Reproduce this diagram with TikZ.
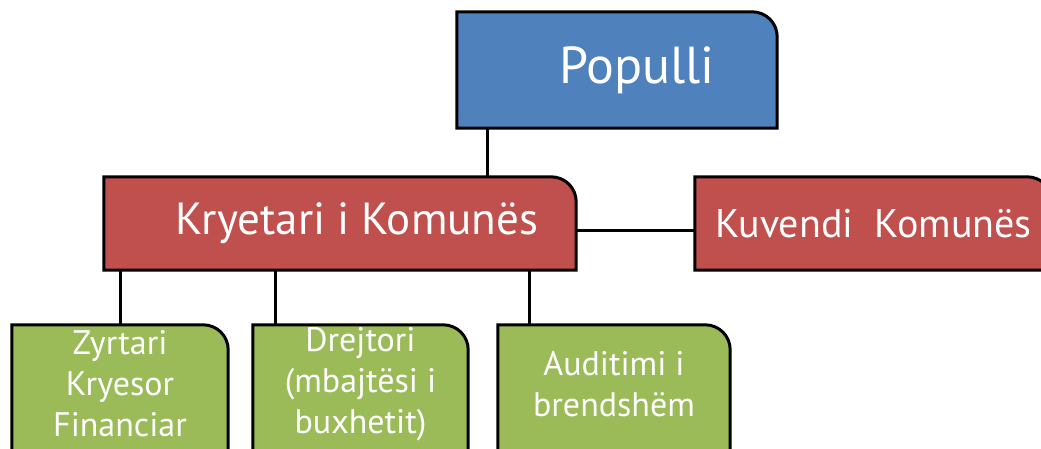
\documentclass[tikz,border=0pt]{standalone}
\usepackage{fontspec}
\setmainfont{PT Sans}
\usetikzlibrary{calc,backgrounds}
\definecolor{popblue}{HTML}{4F81BD}
\definecolor{komred}{HTML}{C0504D}
\definecolor{zyrgreen}{HTML}{9BBB59}
\newcommand{\Corner}{25pt}
\tikzset{drop/.store in=\BoxDrop, drop=0pt,
    Box/.style={
    inner sep=0pt,
    align=center,
    text=white,
    append after command={% <= shape with one round corner
        \pgfextra{%
            \begin{pgfinterruptpath}\begin{pgfonlayer}{background}
            \filldraw[fill=#1, draw=black, line width=3pt]
                ([yshift=-\BoxDrop]\tikzlastnode.south west) -- (\tikzlastnode.north west)
                -- ([xshift=-\Corner]\tikzlastnode.north east)
                arc[start angle=90, end angle=0, radius=\Corner]
                -- ([yshift=-\BoxDrop]\tikzlastnode.south east) -- cycle;
            \end{pgfonlayer}\end{pgfinterruptpath}
        }
    }},
    Link/.style={draw=black, line width=3pt}
}

\begin{document}
\begin{tikzpicture}[x=1pt, y=-1pt]
\useasboundingbox (0,0) rectangle (1041,448);
\clip (0,0) rectangle (1041,448);
% top
\node [Box=popblue, minimum width=320pt, minimum height=116pt,
    font=\fontsize{52}{58}\selectfont] (populli) at (617,70) {\hspace*{40pt}Populli};
% middle row
\node [Box=komred, minimum width=472pt, minimum height=93pt,
    font=\fontsize{45}{50}\selectfont] (kryetari) at (340,223.5) {\hspace*{34pt}Kryetari i Komunës};
\node [Box=komred, minimum width=357pt, minimum height=93pt,
    font=\fontsize{40}{46}\selectfont] (kuvendi) at (873.5,223.5) {Kuvendi\ \ Komunës};
% bottom row, bottom edges lie off the page
\begin{scope}[drop=40pt]
\node [Box=zyrgreen, minimum width=216pt, minimum height=118pt,
    font=\fontsize{34}{41}\selectfont] (zyrtari) at (120,384) {Zyrtari\\Kryesor\\Financiar};
\node [Box=zyrgreen, minimum width=215pt, minimum height=118pt,
    font=\fontsize{34}{41}\selectfont] (drejtori) at (360.5,384) {Drejtori\\(mbajtësi i\\buxhetit)};
\node [Box=zyrgreen, minimum width=232pt, minimum height=118pt,
    font=\fontsize{34}{41}\selectfont] (auditimi) at (614,384) {Auditimi i\\brendshëm};
\end{scope}
\coordinate (p1) at ($(populli.south west)+(31,0)$);
\coordinate (d1) at ($(drejtori.north west)+(23,0)$);
\coordinate (a1) at ($(auditimi.north west)+(32,0)$);
\draw [Link] (p1) -- (p1 |- kryetari.north);
\draw [Link] ([yshift=-7pt]kryetari.east) -- ([yshift=-7pt]kuvendi.west);
\draw [Link] (kryetari.south -| zyrtari.north) -- (zyrtari.north);
\draw [Link] (d1 |- kryetari.south) -- (d1);
\draw [Link] (a1 |- kryetari.south) -- (a1);
\end{tikzpicture}
\end{document}
